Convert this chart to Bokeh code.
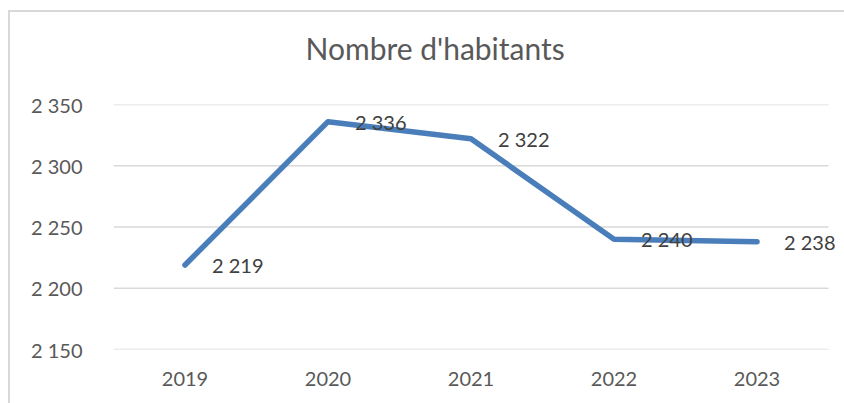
from bokeh.plotting import figure
from bokeh.models import Range1d, ColumnDataSource, CustomJSTickFormatter, FixedTicker, LabelSet
from bokeh.core.properties import value
from bokeh.embed import file_html
from bokeh.resources import INLINE

years = ["2019", "2020", "2021", "2022", "2023"]
habitants = [2219, 2336, 2322, 2240, 2238]
y_ticks = [2150, 2200, 2250, 2300, 2350]
title_text = "Nombre d'habitants"

def fmt(v):
    return f"{v:,}".replace(",", " ")

xs = list(range(len(years)))
src = ColumnDataSource(dict(x=xs, y=habitants, lab=[fmt(v) for v in habitants]))

# category slots span [-0.5, n-0.5]; a little extra room on the right for the last data label
cat_lo, cat_hi = -0.5, len(years) - 0.5
p = figure(width=844, height=403, x_range=Range1d(cat_lo, cat_hi + 16 / 143),
           y_range=Range1d(y_ticks[0], y_ticks[-1]), output_backend="svg", toolbar_location=None,
           min_border_left=113, min_border_right=0, min_border_top=104, min_border_bottom=54)
p.outline_line_color = None
p.background_fill_color = None
p.border_fill_color = None
# chart-area border (left and top edges visible), drawn behind the transparent canvas
p.styles = {
    "background": "linear-gradient(#d9d9d9,#d9d9d9) 8px 10px / 2px 100% no-repeat, "
                  "linear-gradient(#d9d9d9,#d9d9d9) 8px 10px / 100% 2px no-repeat, white",
}

# horizontal gridlines across the category slots only
p.xgrid.grid_line_color = None
p.ygrid.grid_line_color = None
p.segment(x0=cat_lo, x1=cat_hi, y0=y_ticks, y1=y_ticks, line_color="#d9d9d9", line_width=1.5, level="underlay")

p.line("x", "y", source=src, line_color="#4a7ebb", line_width=5.5, line_cap="round", line_join="round")
p.add_layout(LabelSet(x="x", y="y", text="lab", source=src, x_offset=27, text_align="left",
                      text_baseline="middle", text_font=value("Lato"), text_font_size="20px",
                      text_color="#404040"))

p.xaxis.ticker = FixedTicker(ticks=xs)
p.xaxis.major_label_overrides = {i: yv for i, yv in zip(xs, years)}
p.yaxis.ticker = FixedTicker(ticks=y_ticks)
p.yaxis.formatter = CustomJSTickFormatter(code="return Math.round(tick).toString().replace(/\\B(?=(\\d{3})+(?!\\d))/g, ' ');")
for ax in (p.xaxis[0], p.yaxis[0]):
    ax.axis_line_color = None
    ax.major_tick_line_color = None
    ax.minor_tick_line_color = None
    ax.major_label_text_font = "Lato"
    ax.major_label_text_font_size = "20px"
    ax.major_label_text_color = "#595959"
p.yaxis.major_label_standoff = 25
p.xaxis.major_label_standoff = 16

# trailing blank line keeps the title higher above the plot area
p.title.text = title_text + "\n "
p.title.align = "left"
p.title.offset = 192
p.title.text_font = "Lato"
p.title.text_font_style = "normal"
p.title.text_font_size = "30px"
p.title.text_color = "#595959"
p.title.standoff = 6

open("out.html", "w").write(file_html(p, INLINE))
